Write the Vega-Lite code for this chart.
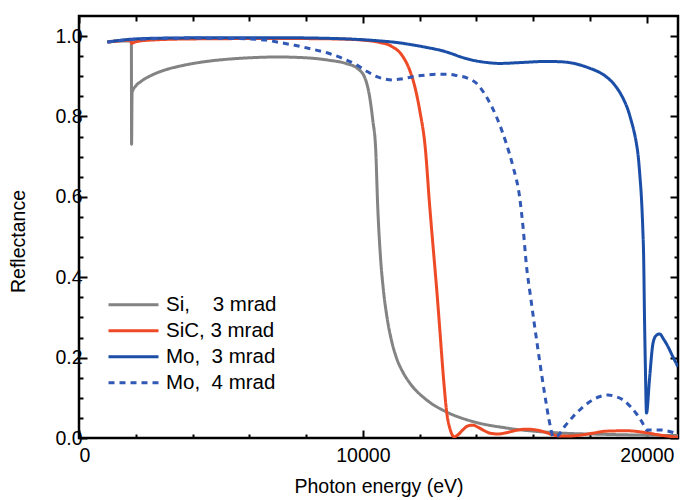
{
  "$schema": "https://vega.github.io/schema/vega-lite/v6.json",
  "width": 599,
  "height": 422,
  "autosize": {"type": "none"},
  "padding": {"left": 79, "top": 16, "right": 3, "bottom": 62},
  "config": {
    "font": "Liberation Sans",
    "view": {"stroke": "#000000", "strokeWidth": 2.5},
    "axis": {
      "domain": false,
      "grid": false,
      "tickColor": "#000000",
      "tickWidth": 2,
      "labelColor": "#000000",
      "labelFont": "Liberation Sans",
      "labelFontSize": 19.5,
      "titleColor": "#000000",
      "titleFont": "Liberation Sans",
      "titleFontSize": 19.5,
      "titleFontWeight": "normal"
    }
  },
  "data": {
    "values": [
      {"s": "Si,\u00a0\u00a0\u00a0\u00a03 mrad", "e": 1000, "r": 0.986},
      {"s": "Si,\u00a0\u00a0\u00a0\u00a03 mrad", "e": 1400, "r": 0.988},
      {"s": "Si,\u00a0\u00a0\u00a0\u00a03 mrad", "e": 1800, "r": 0.988},
      {"s": "Si,\u00a0\u00a0\u00a0\u00a03 mrad", "e": 1845, "r": 0.984},
      {"s": "Si,\u00a0\u00a0\u00a0\u00a03 mrad", "e": 1852, "r": 0.731},
      {"s": "Si,\u00a0\u00a0\u00a0\u00a03 mrad", "e": 1870, "r": 0.86},
      {"s": "Si,\u00a0\u00a0\u00a0\u00a03 mrad", "e": 2000, "r": 0.876},
      {"s": "Si,\u00a0\u00a0\u00a0\u00a03 mrad", "e": 2200, "r": 0.888},
      {"s": "Si,\u00a0\u00a0\u00a0\u00a03 mrad", "e": 2600, "r": 0.904},
      {"s": "Si,\u00a0\u00a0\u00a0\u00a03 mrad", "e": 3000, "r": 0.915},
      {"s": "Si,\u00a0\u00a0\u00a0\u00a03 mrad", "e": 3600, "r": 0.926},
      {"s": "Si,\u00a0\u00a0\u00a0\u00a03 mrad", "e": 4200, "r": 0.934},
      {"s": "Si,\u00a0\u00a0\u00a0\u00a03 mrad", "e": 5000, "r": 0.941},
      {"s": "Si,\u00a0\u00a0\u00a0\u00a03 mrad", "e": 6000, "r": 0.946},
      {"s": "Si,\u00a0\u00a0\u00a0\u00a03 mrad", "e": 7000, "r": 0.948},
      {"s": "Si,\u00a0\u00a0\u00a0\u00a03 mrad", "e": 8000, "r": 0.946},
      {"s": "Si,\u00a0\u00a0\u00a0\u00a03 mrad", "e": 8800, "r": 0.940},
      {"s": "Si,\u00a0\u00a0\u00a0\u00a03 mrad", "e": 9400, "r": 0.932},
      {"s": "Si,\u00a0\u00a0\u00a0\u00a03 mrad", "e": 9800, "r": 0.920},
      {"s": "Si,\u00a0\u00a0\u00a0\u00a03 mrad", "e": 10070, "r": 0.896},
      {"s": "Si,\u00a0\u00a0\u00a0\u00a03 mrad", "e": 10240, "r": 0.848},
      {"s": "Si,\u00a0\u00a0\u00a0\u00a03 mrad", "e": 10350, "r": 0.79},
      {"s": "Si,\u00a0\u00a0\u00a0\u00a03 mrad", "e": 10450, "r": 0.72},
      {"s": "Si,\u00a0\u00a0\u00a0\u00a03 mrad", "e": 10520, "r": 0.58},
      {"s": "Si,\u00a0\u00a0\u00a0\u00a03 mrad", "e": 10620, "r": 0.45},
      {"s": "Si,\u00a0\u00a0\u00a0\u00a03 mrad", "e": 10720, "r": 0.37},
      {"s": "Si,\u00a0\u00a0\u00a0\u00a03 mrad", "e": 10850, "r": 0.30},
      {"s": "Si,\u00a0\u00a0\u00a0\u00a03 mrad", "e": 11000, "r": 0.245},
      {"s": "Si,\u00a0\u00a0\u00a0\u00a03 mrad", "e": 11180, "r": 0.20},
      {"s": "Si,\u00a0\u00a0\u00a0\u00a03 mrad", "e": 11400, "r": 0.165},
      {"s": "Si,\u00a0\u00a0\u00a0\u00a03 mrad", "e": 11650, "r": 0.137},
      {"s": "Si,\u00a0\u00a0\u00a0\u00a03 mrad", "e": 12240, "r": 0.095},
      {"s": "Si,\u00a0\u00a0\u00a0\u00a03 mrad", "e": 12940, "r": 0.065},
      {"s": "Si,\u00a0\u00a0\u00a0\u00a03 mrad", "e": 13870, "r": 0.041},
      {"s": "Si,\u00a0\u00a0\u00a0\u00a03 mrad", "e": 15050, "r": 0.025},
      {"s": "Si,\u00a0\u00a0\u00a0\u00a03 mrad", "e": 16810, "r": 0.013},
      {"s": "Si,\u00a0\u00a0\u00a0\u00a03 mrad", "e": 18570, "r": 0.009},
      {"s": "Si,\u00a0\u00a0\u00a0\u00a03 mrad", "e": 21100, "r": 0.006},

      {"s": "SiC, 3 mrad", "e": 1000, "r": 0.985},
      {"s": "SiC, 3 mrad", "e": 1400, "r": 0.988},
      {"s": "SiC, 3 mrad", "e": 1830, "r": 0.99},
      {"s": "SiC, 3 mrad", "e": 1850, "r": 0.982},
      {"s": "SiC, 3 mrad", "e": 2000, "r": 0.986},
      {"s": "SiC, 3 mrad", "e": 2500, "r": 0.99},
      {"s": "SiC, 3 mrad", "e": 4000, "r": 0.993},
      {"s": "SiC, 3 mrad", "e": 7000, "r": 0.994},
      {"s": "SiC, 3 mrad", "e": 9000, "r": 0.993},
      {"s": "SiC, 3 mrad", "e": 10000, "r": 0.99},
      {"s": "SiC, 3 mrad", "e": 10600, "r": 0.984},
      {"s": "SiC, 3 mrad", "e": 11000, "r": 0.975},
      {"s": "SiC, 3 mrad", "e": 11400, "r": 0.95},
      {"s": "SiC, 3 mrad", "e": 11650, "r": 0.915},
      {"s": "SiC, 3 mrad", "e": 11830, "r": 0.874},
      {"s": "SiC, 3 mrad", "e": 12000, "r": 0.816},
      {"s": "SiC, 3 mrad", "e": 12200, "r": 0.72},
      {"s": "SiC, 3 mrad", "e": 12350, "r": 0.58},
      {"s": "SiC, 3 mrad", "e": 12480, "r": 0.47},
      {"s": "SiC, 3 mrad", "e": 12600, "r": 0.37},
      {"s": "SiC, 3 mrad", "e": 12720, "r": 0.26},
      {"s": "SiC, 3 mrad", "e": 12850, "r": 0.14},
      {"s": "SiC, 3 mrad", "e": 12960, "r": 0.06},
      {"s": "SiC, 3 mrad", "e": 13060, "r": 0.025},
      {"s": "SiC, 3 mrad", "e": 13220, "r": 0.003},
      {"s": "SiC, 3 mrad", "e": 13380, "r": 0.01},
      {"s": "SiC, 3 mrad", "e": 13530, "r": 0.021},
      {"s": "SiC, 3 mrad", "e": 13700, "r": 0.03},
      {"s": "SiC, 3 mrad", "e": 13880, "r": 0.032},
      {"s": "SiC, 3 mrad", "e": 14050, "r": 0.027},
      {"s": "SiC, 3 mrad", "e": 14230, "r": 0.02},
      {"s": "SiC, 3 mrad", "e": 14480, "r": 0.012},
      {"s": "SiC, 3 mrad", "e": 14750, "r": 0.01},
      {"s": "SiC, 3 mrad", "e": 15050, "r": 0.013},
      {"s": "SiC, 3 mrad", "e": 15400, "r": 0.019},
      {"s": "SiC, 3 mrad", "e": 15760, "r": 0.022},
      {"s": "SiC, 3 mrad", "e": 16100, "r": 0.02},
      {"s": "SiC, 3 mrad", "e": 16340, "r": 0.016},
      {"s": "SiC, 3 mrad", "e": 16650, "r": 0.009},
      {"s": "SiC, 3 mrad", "e": 16950, "r": 0.005},
      {"s": "SiC, 3 mrad", "e": 17300, "r": 0.005},
      {"s": "SiC, 3 mrad", "e": 17640, "r": 0.007},
      {"s": "SiC, 3 mrad", "e": 18100, "r": 0.012},
      {"s": "SiC, 3 mrad", "e": 18570, "r": 0.017},
      {"s": "SiC, 3 mrad", "e": 19280, "r": 0.018},
      {"s": "SiC, 3 mrad", "e": 20000, "r": 0.013},
      {"s": "SiC, 3 mrad", "e": 20400, "r": 0.008},
      {"s": "SiC, 3 mrad", "e": 20700, "r": 0.005},
      {"s": "SiC, 3 mrad", "e": 21100, "r": 0.002},

      {"s": "Mo,\u00a0\u00a03 mrad", "e": 1000, "r": 0.985},
      {"s": "Mo,\u00a0\u00a03 mrad", "e": 1500, "r": 0.99},
      {"s": "Mo,\u00a0\u00a03 mrad", "e": 2000, "r": 0.993},
      {"s": "Mo,\u00a0\u00a03 mrad", "e": 3000, "r": 0.995},
      {"s": "Mo,\u00a0\u00a03 mrad", "e": 5000, "r": 0.996},
      {"s": "Mo,\u00a0\u00a03 mrad", "e": 7000, "r": 0.996},
      {"s": "Mo,\u00a0\u00a03 mrad", "e": 9000, "r": 0.994},
      {"s": "Mo,\u00a0\u00a03 mrad", "e": 10000, "r": 0.991},
      {"s": "Mo,\u00a0\u00a03 mrad", "e": 10600, "r": 0.988},
      {"s": "Mo,\u00a0\u00a03 mrad", "e": 11200, "r": 0.984},
      {"s": "Mo,\u00a0\u00a03 mrad", "e": 11760, "r": 0.978},
      {"s": "Mo,\u00a0\u00a03 mrad", "e": 12300, "r": 0.971},
      {"s": "Mo,\u00a0\u00a03 mrad", "e": 12710, "r": 0.965},
      {"s": "Mo,\u00a0\u00a03 mrad", "e": 13100, "r": 0.957},
      {"s": "Mo,\u00a0\u00a03 mrad", "e": 13410, "r": 0.949},
      {"s": "Mo,\u00a0\u00a03 mrad", "e": 13700, "r": 0.943},
      {"s": "Mo,\u00a0\u00a03 mrad", "e": 14010, "r": 0.938},
      {"s": "Mo,\u00a0\u00a03 mrad", "e": 14400, "r": 0.934},
      {"s": "Mo,\u00a0\u00a03 mrad", "e": 14820, "r": 0.932},
      {"s": "Mo,\u00a0\u00a03 mrad", "e": 15520, "r": 0.934},
      {"s": "Mo,\u00a0\u00a03 mrad", "e": 16460, "r": 0.937},
      {"s": "Mo,\u00a0\u00a03 mrad", "e": 17000, "r": 0.936},
      {"s": "Mo,\u00a0\u00a03 mrad", "e": 17500, "r": 0.931},
      {"s": "Mo,\u00a0\u00a03 mrad", "e": 17990, "r": 0.92},
      {"s": "Mo,\u00a0\u00a03 mrad", "e": 18300, "r": 0.911},
      {"s": "Mo,\u00a0\u00a03 mrad", "e": 18570, "r": 0.899},
      {"s": "Mo,\u00a0\u00a03 mrad", "e": 18850, "r": 0.88},
      {"s": "Mo,\u00a0\u00a03 mrad", "e": 19040, "r": 0.861},
      {"s": "Mo,\u00a0\u00a03 mrad", "e": 19200, "r": 0.84},
      {"s": "Mo,\u00a0\u00a03 mrad", "e": 19340, "r": 0.816},
      {"s": "Mo,\u00a0\u00a03 mrad", "e": 19450, "r": 0.79},
      {"s": "Mo,\u00a0\u00a03 mrad", "e": 19540, "r": 0.766},
      {"s": "Mo,\u00a0\u00a03 mrad", "e": 19630, "r": 0.735},
      {"s": "Mo,\u00a0\u00a03 mrad", "e": 19700, "r": 0.70},
      {"s": "Mo,\u00a0\u00a03 mrad", "e": 19760, "r": 0.65},
      {"s": "Mo,\u00a0\u00a03 mrad", "e": 19810, "r": 0.60},
      {"s": "Mo,\u00a0\u00a03 mrad", "e": 19860, "r": 0.52},
      {"s": "Mo,\u00a0\u00a03 mrad", "e": 19890, "r": 0.45},
      {"s": "Mo,\u00a0\u00a03 mrad", "e": 19920, "r": 0.30},
      {"s": "Mo,\u00a0\u00a03 mrad", "e": 19950, "r": 0.18},
      {"s": "Mo,\u00a0\u00a03 mrad", "e": 19990, "r": 0.062},
      {"s": "Mo,\u00a0\u00a03 mrad", "e": 20100, "r": 0.15},
      {"s": "Mo,\u00a0\u00a03 mrad", "e": 20220, "r": 0.236},
      {"s": "Mo,\u00a0\u00a03 mrad", "e": 20330, "r": 0.255},
      {"s": "Mo,\u00a0\u00a03 mrad", "e": 20450, "r": 0.259},
      {"s": "Mo,\u00a0\u00a03 mrad", "e": 20600, "r": 0.245},
      {"s": "Mo,\u00a0\u00a03 mrad", "e": 20750, "r": 0.227},
      {"s": "Mo,\u00a0\u00a03 mrad", "e": 20900, "r": 0.205},
      {"s": "Mo,\u00a0\u00a03 mrad", "e": 21100, "r": 0.177},

      {"s": "Mo,\u00a0\u00a04 mrad", "e": 1000, "r": 0.985},
      {"s": "Mo,\u00a0\u00a04 mrad", "e": 2000, "r": 0.992},
      {"s": "Mo,\u00a0\u00a04 mrad", "e": 4000, "r": 0.995},
      {"s": "Mo,\u00a0\u00a04 mrad", "e": 5500, "r": 0.994},
      {"s": "Mo,\u00a0\u00a04 mrad", "e": 6600, "r": 0.99},
      {"s": "Mo,\u00a0\u00a04 mrad", "e": 7075, "r": 0.984},
      {"s": "Mo,\u00a0\u00a04 mrad", "e": 7600, "r": 0.977},
      {"s": "Mo,\u00a0\u00a04 mrad", "e": 8240, "r": 0.967},
      {"s": "Mo,\u00a0\u00a04 mrad", "e": 8840, "r": 0.956},
      {"s": "Mo,\u00a0\u00a04 mrad", "e": 9300, "r": 0.944},
      {"s": "Mo,\u00a0\u00a04 mrad", "e": 9790, "r": 0.928},
      {"s": "Mo,\u00a0\u00a04 mrad", "e": 10150, "r": 0.912},
      {"s": "Mo,\u00a0\u00a04 mrad", "e": 10490, "r": 0.899},
      {"s": "Mo,\u00a0\u00a04 mrad", "e": 10800, "r": 0.893},
      {"s": "Mo,\u00a0\u00a04 mrad", "e": 11060, "r": 0.891},
      {"s": "Mo,\u00a0\u00a04 mrad", "e": 11400, "r": 0.894},
      {"s": "Mo,\u00a0\u00a04 mrad", "e": 11760, "r": 0.899},
      {"s": "Mo,\u00a0\u00a04 mrad", "e": 12200, "r": 0.903},
      {"s": "Mo,\u00a0\u00a04 mrad", "e": 12600, "r": 0.905},
      {"s": "Mo,\u00a0\u00a04 mrad", "e": 13000, "r": 0.905},
      {"s": "Mo,\u00a0\u00a04 mrad", "e": 13300, "r": 0.902},
      {"s": "Mo,\u00a0\u00a04 mrad", "e": 13700, "r": 0.895},
      {"s": "Mo,\u00a0\u00a04 mrad", "e": 14010, "r": 0.882},
      {"s": "Mo,\u00a0\u00a04 mrad", "e": 14350, "r": 0.849},
      {"s": "Mo,\u00a0\u00a04 mrad", "e": 14700, "r": 0.80},
      {"s": "Mo,\u00a0\u00a04 mrad", "e": 15050, "r": 0.733},
      {"s": "Mo,\u00a0\u00a04 mrad", "e": 15290, "r": 0.675},
      {"s": "Mo,\u00a0\u00a04 mrad", "e": 15520, "r": 0.60},
      {"s": "Mo,\u00a0\u00a04 mrad", "e": 15640, "r": 0.526},
      {"s": "Mo,\u00a0\u00a04 mrad", "e": 15760, "r": 0.43},
      {"s": "Mo,\u00a0\u00a04 mrad", "e": 15900, "r": 0.355},
      {"s": "Mo,\u00a0\u00a04 mrad", "e": 16170, "r": 0.219},
      {"s": "Mo,\u00a0\u00a04 mrad", "e": 16400, "r": 0.111},
      {"s": "Mo,\u00a0\u00a04 mrad", "e": 16600, "r": 0.03},
      {"s": "Mo,\u00a0\u00a04 mrad", "e": 16700, "r": 0.003},
      {"s": "Mo,\u00a0\u00a04 mrad", "e": 16850, "r": 0.005},
      {"s": "Mo,\u00a0\u00a04 mrad", "e": 17100, "r": 0.028},
      {"s": "Mo,\u00a0\u00a04 mrad", "e": 17400, "r": 0.053},
      {"s": "Mo,\u00a0\u00a04 mrad", "e": 17700, "r": 0.074},
      {"s": "Mo,\u00a0\u00a04 mrad", "e": 17990, "r": 0.09},
      {"s": "Mo,\u00a0\u00a04 mrad", "e": 18300, "r": 0.102},
      {"s": "Mo,\u00a0\u00a04 mrad", "e": 18630, "r": 0.107},
      {"s": "Mo,\u00a0\u00a04 mrad", "e": 18900, "r": 0.103},
      {"s": "Mo,\u00a0\u00a04 mrad", "e": 19160, "r": 0.095},
      {"s": "Mo,\u00a0\u00a04 mrad", "e": 19400, "r": 0.08},
      {"s": "Mo,\u00a0\u00a04 mrad", "e": 19630, "r": 0.061},
      {"s": "Mo,\u00a0\u00a04 mrad", "e": 19830, "r": 0.04},
      {"s": "Mo,\u00a0\u00a04 mrad", "e": 20000, "r": 0.02},
      {"s": "Mo,\u00a0\u00a04 mrad", "e": 20450, "r": 0.02},
      {"s": "Mo,\u00a0\u00a04 mrad", "e": 21100, "r": 0.01}
    ]
  },
  "layer": [
    {
      "mark": {"type": "line", "interpolate": "monotone", "clip": true},
      "encoding": {
        "x": {
          "field": "e", "type": "quantitative",
          "scale": {"domain": [0, 21100], "nice": false, "zero": false},
          "axis": {
            "orient": "bottom",
            "title": "Photon energy (eV)",
            "values": [0, 2000, 4000, 6000, 8000, 10000, 12000, 14000, 16000, 18000, 20000],
            "format": "d",
            "labelExpr": "datum.value % 10000 === 0 ? datum.label : ''",
            "tickSize": {"condition": {"test": "datum.value % 10000 === 0", "value": -8}, "value": -4},
            "labelOverlap": false,
            "labelPadding": 16,
            "titlePadding": 9
          }
        },
        "y": {
          "field": "r", "type": "quantitative",
          "scale": {"domain": [0, 1.05], "nice": false},
          "axis": {
            "orient": "left",
            "title": "Reflectance",
            "titleY": 225,
            "values": [0, 0.05, 0.1, 0.15, 0.2, 0.25, 0.3, 0.35, 0.4, 0.45, 0.5, 0.55, 0.6, 0.65, 0.7, 0.75, 0.8, 0.85, 0.9, 0.95, 1.0],
            "format": ".1f",
            "labelExpr": "abs(datum.value * 5 - round(datum.value * 5)) < 0.001 ? datum.label : ''",
            "tickSize": {"condition": {"test": "abs(datum.value * 5 - round(datum.value * 5)) < 0.001", "value": -8}, "value": -4},
            "labelOverlap": false,
            "labelPadding": 5,
            "titlePadding": 26
          }
        },
        "color": {
          "field": "s", "type": "nominal",
          "scale": {
            "domain": ["Si,\u00a0\u00a0\u00a0\u00a03 mrad", "SiC, 3 mrad", "Mo,\u00a0\u00a03 mrad", "Mo,\u00a0\u00a04 mrad"],
            "range": ["#838383", "#ef4a26", "#1b4ea6", "#3058b4"]
          },
          "legend": {
            "title": null, "orient": "none", "legendX": 28, "legendY": 276,
            "symbolType": "stroke", "symbolSize": 2500, "clipHeight": 25.6,
            "labelFontSize": 20.5, "labelColor": "#000000", "labelOffset": 6, "rowPadding": 0
          }
        },
        "strokeDash": {
          "field": "s", "type": "nominal",
          "scale": {
            "domain": ["Si,\u00a0\u00a0\u00a0\u00a03 mrad", "SiC, 3 mrad", "Mo,\u00a0\u00a03 mrad", "Mo,\u00a0\u00a04 mrad"],
            "range": [[1, 0], [1, 0], [1, 0], [6, 5]]
          },
          "legend": {
            "title": null, "orient": "none", "legendX": 28, "legendY": 276,
            "symbolType": "stroke", "symbolSize": 2500, "clipHeight": 25.6,
            "labelFontSize": 20.5, "labelColor": "#000000", "labelOffset": 6, "rowPadding": 0
          }
        },
        "strokeWidth": {
          "field": "s", "type": "nominal",
          "scale": {
            "domain": ["Si,\u00a0\u00a0\u00a0\u00a03 mrad", "SiC, 3 mrad", "Mo,\u00a0\u00a03 mrad", "Mo,\u00a0\u00a04 mrad"],
            "range": [3, 3, 3, 1.6]
          },
          "legend": {
            "title": null, "orient": "none", "legendX": 28, "legendY": 276,
            "symbolType": "stroke", "symbolSize": 2500, "clipHeight": 25.6,
            "labelFontSize": 20.5, "labelColor": "#000000", "labelOffset": 6, "rowPadding": 0
          }
        }
      }
    },
    {
      "mark": {"type": "point", "opacity": 0},
      "encoding": {
        "x": {
          "field": "e", "type": "quantitative",
          "scale": {"domain": [0, 21100], "nice": false, "zero": false},
          "axis": {
            "orient": "top",
            "title": null,
            "labels": false,
            "values": [0, 2000, 4000, 6000, 8000, 10000, 12000, 14000, 16000, 18000, 20000],
            "tickSize": {"condition": {"test": "datum.value % 10000 === 0", "value": -7}, "value": -5}
          }
        },
        "y": {
          "field": "r", "type": "quantitative",
          "scale": {"domain": [0, 1.05], "nice": false},
          "axis": {
            "orient": "right",
            "title": null,
            "labels": false,
            "values": [0, 0.05, 0.1, 0.15, 0.2, 0.25, 0.3, 0.35, 0.4, 0.45, 0.5, 0.55, 0.6, 0.65, 0.7, 0.75, 0.8, 0.85, 0.9, 0.95, 1.0],
            "tickSize": {"condition": {"test": "abs(datum.value * 5 - round(datum.value * 5)) < 0.001", "value": -8}, "value": -4}
          }
        }
      }
    }
  ],
  "resolve": {"axis": {"x": "independent", "y": "independent"}}
}
